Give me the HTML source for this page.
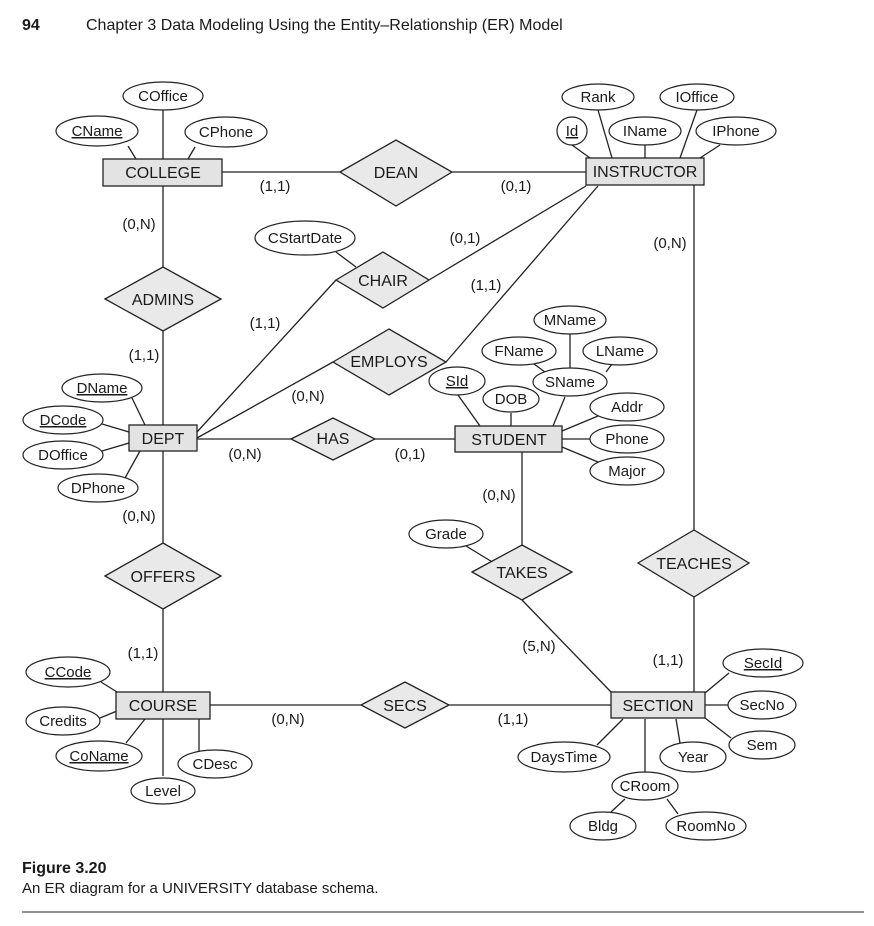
<!DOCTYPE html>
<html><head><meta charset="utf-8"><style>
html,body{margin:0;padding:0;background:#fff;}
svg text{font-family:"Liberation Sans",Arial,sans-serif;fill:#1a1a1a;}
</style></head><body>
<svg width="874" height="921" viewBox="0 0 874 921" xmlns="http://www.w3.org/2000/svg">
<g stroke="#222" stroke-width="1.3" fill="none">
<!-- relationship lines -->
<line x1="222" y1="172" x2="340" y2="172"/>
<line x1="452" y1="172" x2="586" y2="172"/>
<line x1="163" y1="186" x2="163" y2="267"/>
<line x1="163" y1="331" x2="163" y2="425"/>
<line x1="429" y1="280" x2="586" y2="186"/>
<line x1="336" y1="280" x2="197" y2="432"/>
<line x1="446" y1="362" x2="598" y2="186"/>
<line x1="333" y1="362" x2="197" y2="438"/>
<line x1="694" y1="185" x2="694" y2="530"/>
<line x1="694" y1="597" x2="694" y2="692"/>
<line x1="197" y1="439" x2="291" y2="439"/>
<line x1="375" y1="439" x2="455" y2="439"/>
<line x1="522" y1="452" x2="522" y2="545"/>
<line x1="522" y1="600" x2="611" y2="692"/>
<line x1="163" y1="451" x2="163" y2="543"/>
<line x1="163" y1="609" x2="163" y2="692"/>
<line x1="210" y1="705" x2="361" y2="705"/>
<line x1="449" y1="705" x2="611" y2="705"/>
<!-- attribute lines -->
<line x1="163" y1="110" x2="163" y2="159"/>
<line x1="128" y1="146" x2="136" y2="159"/>
<line x1="195" y1="147" x2="188" y2="159"/>
<line x1="598" y1="110" x2="612" y2="158"/>
<line x1="697" y1="110" x2="680" y2="158"/>
<line x1="572" y1="145" x2="590" y2="158"/>
<line x1="645" y1="145" x2="645" y2="158"/>
<line x1="720" y1="145" x2="700" y2="158"/>
<line x1="336" y1="252" x2="356" y2="267"/>
<line x1="570" y1="334" x2="570" y2="368"/>
<line x1="534" y1="364" x2="545" y2="372"/>
<line x1="612" y1="364" x2="606" y2="372"/>
<line x1="565" y1="397" x2="553" y2="426"/>
<line x1="458" y1="395" x2="480" y2="426"/>
<line x1="511" y1="413" x2="511" y2="426"/>
<line x1="598" y1="416" x2="562" y2="431"/>
<line x1="590" y1="439" x2="562" y2="439"/>
<line x1="598" y1="462" x2="562" y2="447"/>
<line x1="132" y1="398" x2="145" y2="425"/>
<line x1="102" y1="424" x2="129" y2="432"/>
<line x1="102" y1="451" x2="129" y2="443"/>
<line x1="125" y1="478" x2="140" y2="451"/>
<line x1="466" y1="546" x2="494" y2="563"/>
<line x1="101" y1="682" x2="117" y2="692"/>
<line x1="100" y1="718" x2="117" y2="711"/>
<line x1="126" y1="743" x2="145" y2="719"/>
<line x1="163" y1="719" x2="163" y2="776"/>
<line x1="199" y1="719" x2="199" y2="751"/>
<line x1="729" y1="673" x2="705" y2="693"/>
<line x1="728" y1="705" x2="705" y2="705"/>
<line x1="731" y1="738" x2="705" y2="718"/>
<line x1="676" y1="719" x2="680" y2="743"/>
<line x1="623" y1="719" x2="597" y2="745"/>
<line x1="645" y1="719" x2="645" y2="772"/>
<line x1="625" y1="799" x2="611" y2="812"/>
<line x1="667" y1="799" x2="678" y2="814"/>
</g>
<!-- entities -->
<g stroke="#222" stroke-width="1.3" fill="#e3e3e3">
<rect x="103" y="159" width="119" height="27"/>
<rect x="586" y="158" width="118" height="27"/>
<rect x="129" y="425" width="68" height="26"/>
<rect x="455" y="426" width="107" height="26"/>
<rect x="116" y="692" width="94" height="27"/>
<rect x="611" y="692" width="94" height="26"/>
</g>
<!-- relationships -->
<g stroke="#222" stroke-width="1.3" fill="#e9e9e9">
<polygon points="340,172 396,140 452,172 396,206"/>
<polygon points="105,299 163,267 221,299 163,331"/>
<polygon points="336,280 383,252 429,280 383,308"/>
<polygon points="333,362 389,329 446,362 389,395"/>
<polygon points="291,439 333,418 375,439 333,460"/>
<polygon points="472,572 522,545 572,572 522,600"/>
<polygon points="638,563 694,530 749,563 694,597"/>
<polygon points="105,576 163,543 221,576 163,609"/>
<polygon points="361,705 405,682 449,705 405,728"/>
</g>
<!-- attributes -->
<g stroke="#222" stroke-width="1.2" fill="#fff">
<ellipse cx="163" cy="96" rx="40" ry="14"/>
<ellipse cx="97" cy="131" rx="41" ry="15"/>
<ellipse cx="226" cy="132" rx="41" ry="15"/>
<ellipse cx="598" cy="97" rx="36" ry="13"/>
<ellipse cx="697" cy="97" rx="37" ry="13"/>
<ellipse cx="572" cy="131" rx="15" ry="14"/>
<ellipse cx="645" cy="131" rx="36" ry="14"/>
<ellipse cx="736" cy="131" rx="40" ry="14"/>
<ellipse cx="305" cy="238" rx="50" ry="17"/>
<ellipse cx="570" cy="320" rx="36" ry="14"/>
<ellipse cx="519" cy="351" rx="37" ry="14"/>
<ellipse cx="620" cy="351" rx="37" ry="14"/>
<ellipse cx="570" cy="382" rx="37" ry="14"/>
<ellipse cx="457" cy="381" rx="28" ry="14"/>
<ellipse cx="511" cy="399" rx="28" ry="13"/>
<ellipse cx="627" cy="407" rx="37" ry="14"/>
<ellipse cx="627" cy="439" rx="37" ry="14"/>
<ellipse cx="627" cy="471" rx="37" ry="14"/>
<ellipse cx="102" cy="388" rx="40" ry="14"/>
<ellipse cx="63" cy="420" rx="40" ry="14"/>
<ellipse cx="63" cy="455" rx="40" ry="14"/>
<ellipse cx="98" cy="488" rx="40" ry="14"/>
<ellipse cx="446" cy="534" rx="37" ry="14"/>
<ellipse cx="68" cy="672" rx="42" ry="15"/>
<ellipse cx="63" cy="721" rx="37" ry="14"/>
<ellipse cx="99" cy="756" rx="43" ry="15"/>
<ellipse cx="215" cy="764" rx="37" ry="14"/>
<ellipse cx="163" cy="791" rx="32" ry="13"/>
<ellipse cx="763" cy="663" rx="40" ry="14"/>
<ellipse cx="762" cy="705" rx="34" ry="14"/>
<ellipse cx="762" cy="745" rx="33" ry="14"/>
<ellipse cx="693" cy="757" rx="33" ry="15"/>
<ellipse cx="564" cy="757" rx="46" ry="15"/>
<ellipse cx="645" cy="786" rx="33" ry="14"/>
<ellipse cx="603" cy="826" rx="33" ry="14"/>
<ellipse cx="706" cy="826" rx="40" ry="14"/>
</g>
<!-- entity / relationship labels -->
<g font-size="16" text-anchor="middle">
<text x="163" y="178">COLLEGE</text>
<text x="645" y="177">INSTRUCTOR</text>
<text x="163" y="444">DEPT</text>
<text x="509" y="445">STUDENT</text>
<text x="163" y="711">COURSE</text>
<text x="658" y="711">SECTION</text>
<text x="396" y="178">DEAN</text>
<text x="163" y="305">ADMINS</text>
<text x="383" y="286">CHAIR</text>
<text x="389" y="367">EMPLOYS</text>
<text x="333" y="444">HAS</text>
<text x="522" y="578">TAKES</text>
<text x="694" y="569">TEACHES</text>
<text x="163" y="582">OFFERS</text>
<text x="405" y="711">SECS</text>
</g>
<!-- attribute labels -->
<g font-size="15" text-anchor="middle">
<text x="163" y="101">COffice</text>
<text x="97" y="136" text-decoration="underline">CName</text>
<text x="226" y="137">CPhone</text>
<text x="598" y="102">Rank</text>
<text x="697" y="102">IOffice</text>
<text x="572" y="136" text-decoration="underline">Id</text>
<text x="645" y="136">IName</text>
<text x="736" y="136">IPhone</text>
<text x="305" y="243">CStartDate</text>
<text x="570" y="325">MName</text>
<text x="519" y="356">FName</text>
<text x="620" y="356">LName</text>
<text x="570" y="387">SName</text>
<text x="457" y="386" text-decoration="underline">SId</text>
<text x="511" y="404">DOB</text>
<text x="627" y="412">Addr</text>
<text x="627" y="444">Phone</text>
<text x="627" y="476">Major</text>
<text x="102" y="393" text-decoration="underline">DName</text>
<text x="63" y="425" text-decoration="underline">DCode</text>
<text x="63" y="460">DOffice</text>
<text x="98" y="493">DPhone</text>
<text x="446" y="539">Grade</text>
<text x="68" y="677" text-decoration="underline">CCode</text>
<text x="63" y="726">Credits</text>
<text x="99" y="761" text-decoration="underline">CoName</text>
<text x="215" y="769">CDesc</text>
<text x="163" y="796">Level</text>
<text x="763" y="668" text-decoration="underline">SecId</text>
<text x="762" y="710">SecNo</text>
<text x="762" y="750">Sem</text>
<text x="693" y="762">Year</text>
<text x="564" y="762">DaysTime</text>
<text x="645" y="791">CRoom</text>
<text x="603" y="831">Bldg</text>
<text x="706" y="831">RoomNo</text>
</g>
<!-- cardinalities -->
<g font-size="15" text-anchor="middle">
<text x="275" y="191">(1,1)</text>
<text x="516" y="191">(0,1)</text>
<text x="139" y="229">(0,N)</text>
<text x="465" y="243">(0,1)</text>
<text x="670" y="248">(0,N)</text>
<text x="486" y="290">(1,1)</text>
<text x="265" y="328">(1,1)</text>
<text x="144" y="360">(1,1)</text>
<text x="308" y="401">(0,N)</text>
<text x="245" y="459">(0,N)</text>
<text x="410" y="459">(0,1)</text>
<text x="499" y="500">(0,N)</text>
<text x="139" y="521">(0,N)</text>
<text x="143" y="658">(1,1)</text>
<text x="539" y="651">(5,N)</text>
<text x="668" y="665">(1,1)</text>
<text x="288" y="724">(0,N)</text>
<text x="513" y="724">(1,1)</text>
</g>
<!-- header & caption -->
<text x="22" y="30" font-size="16" font-weight="bold">94</text>
<text x="86" y="30" font-size="16">Chapter 3  Data Modeling Using the Entity–Relationship (ER) Model</text>
<text x="22" y="873" font-size="16" font-weight="bold">Figure 3.20</text>
<text x="22" y="893" font-size="15">An ER diagram for a UNIVERSITY database schema.</text>
<line x1="22" y1="912" x2="864" y2="912" stroke="#222" stroke-width="1"/>
</svg>
</body></html>
